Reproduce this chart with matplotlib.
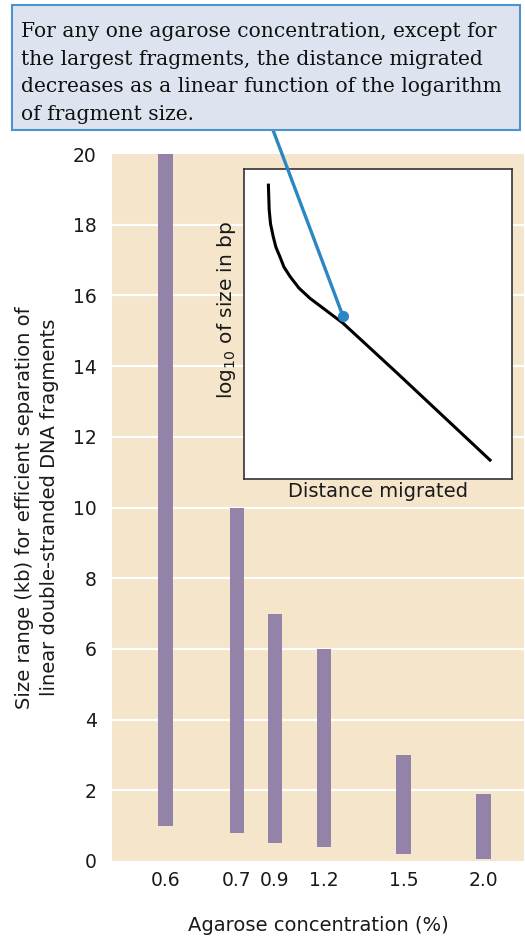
import matplotlib
matplotlib.use("Agg")
import matplotlib.pyplot as plt
from matplotlib.patches import Rectangle

plt.rcParams['font.family'] = ['DejaVu Sans']
plt.rcParams['mathtext.fontset'] = 'dejavusans'

# agarose gel separation ranges (kb)
concentrations = ['0.6', '0.7', '0.9', '1.2', '1.5', '2.0']
range_low = [1.0, 0.8, 0.5, 0.4, 0.2, 0.05]
range_high = [20, 10, 7, 6, 3, 1.9]

# inset curve: distance migrated vs log10 size (relative units)
migrated = [0.091, 0.094, 0.099, 0.109, 0.119, 0.134, 0.149, 0.172, 0.205,
            0.246, 0.369, 0.571, 0.918]
log_size = [0.948, 0.868, 0.823, 0.782, 0.748, 0.717, 0.684, 0.653, 0.616,
            0.583, 0.503, 0.342, 0.061]
pointer = (0.369, 0.526)

note = ("For any one agarose concentration, except for\n"
        "the largest fragments, the distance migrated\n"
        "decreases as a linear function of the logarithm\n"
        "of fragment size.")

W, H = 525, 936
fig = plt.figure(figsize=(W / 100, H / 100), dpi=100)
txt = '#1a1a1a'

# slot positions along the x axis
slots = [1.34, 3.12, 4.07, 5.30, 7.29, 9.29]

ax = fig.add_axes([112 / W, (H - 861) / H, 412 / W, 707 / H])
ax.set_facecolor('#f5e6cb')
ax.set_xlim(0, 10.3)
ax.set_ylim(0, 20)
heights = [h - l for l, h in zip(range_low, range_high)]
ax.bar(slots, heights, bottom=range_low, width=0.36, color='#9483a9', zorder=3)
for y in range(2, 20, 2):
    ax.axhline(y, color='white', lw=1.5, zorder=1)
for s in ax.spines.values():
    s.set_visible(False)
ax.set_yticks(range(0, 21, 2))
ax.set_xticks(slots)
ax.set_xticklabels(concentrations)
ax.tick_params(length=0, labelsize=13.5, colors=txt)
ax.tick_params(axis='y', pad=11)
ax.tick_params(axis='x', pad=7)
ax.set_xlabel('Agarose concentration (%)', fontsize=14, labelpad=19, color=txt)
ax.set_ylabel('Size range (kb) for efficient separation of\nlinear double-stranded DNA fragments',
              fontsize=14, labelpad=10, linespacing=1.38, color=txt)

# inset
ins = fig.add_axes([244 / W, (H - 479) / H, 268 / W, 310 / H])
ins.set_facecolor('white')
ins.set_xlim(0, 1)
ins.set_ylim(0, 1)
ins.plot(migrated, log_size, color='black', lw=2.2, solid_joinstyle='round')
ins.set_xticks([])
ins.set_yticks([])
for s in ins.spines.values():
    s.set_color('#333333')
    s.set_linewidth(1.2)
ins.set_xlabel('Distance migrated', fontsize=14, labelpad=2, color=txt)
ins.set_ylabel(r'log$_{10}$ of size in bp', fontsize=14.5, color=txt)
ins.yaxis.set_label_coords(-0.022, 0.545)

# callout
fig.add_artist(Rectangle((12 / W, (H - 130) / H), 508 / W, 125 / H,
                         facecolor='#dde4f0', edgecolor='#4f93cc', lw=1.5,
                         transform=fig.transFigure, zorder=5))
fig.text(21 / W, (H - 22) / H, note, family='DejaVu Serif', fontsize=14.6,
         va='top', ha='left', linespacing=1.58, color='#111111', zorder=6)
ins.annotate('', xy=pointer, xycoords='data',
             xytext=(273 / W, (H - 130) / H), textcoords='figure fraction',
             arrowprops=dict(arrowstyle='-', color='#2a87c4', lw=2.4,
                             shrinkA=0, shrinkB=0),
             annotation_clip=False, zorder=4)
ins.plot(*pointer, 'o', color='#2a87c4', ms=7, zorder=5, clip_on=False)

fig.savefig('out.png', dpi=100)
